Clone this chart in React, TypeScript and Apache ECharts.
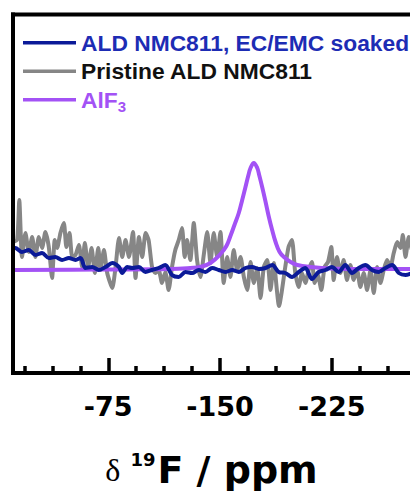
import React, { useEffect, useRef } from 'react';
import * as echarts from 'echarts';

// ---- data (chemical shift in ppm, intensity in arbitrary units) ----
const soakedName = 'ALD NMC811, EC/EMC soaked';
const pristineName = 'Pristine ALD NMC811';
const alf3Name = 'AlF3';

const soakedShift = [-10.4, -12.6, -17.1, -21.7, -26.1, -30.6, -35.1, -39.5, -44.0, -48.6, -53.0, -56.4, -59.7, -64.2, -68.7, -73.2, -77.7, -82.2, -84.4, -87.8, -91.1, -95.6, -99.9, -104.4, -108.8, -113.3, -117.8, -122.3, -126.8, -131.3, -135.7, -140.2, -144.7, -149.2, -153.7, -158.2, -162.6, -167.1, -171.6, -176.1, -180.6, -185.1, -189.4, -193.8, -198.3, -202.8, -207.3, -211.7, -216.2, -220.7, -225.1, -229.6, -234.1, -238.6, -243.1, -247.6, -252.0, -256.5, -261.0, -265.5, -270.0, -274.5, -278.9];
const soakedIntensity = [22, 22, 18, 20, 15, 17, 12, 13, 10, 12, 10, 12, 2, 3, 0, 3, 7, 3, -3, 3, 2, 3, -2, 0, 2, 5, -5, -7, -2, -3, 0, -2, 2, 0, -2, 0, -2, 2, 3, 1, 2, 5, -2, -3, -7, -2, 2, -9, -2, 0, 3, -2, 5, -3, 2, 5, 0, -2, 2, 5, -3, -5, -3];

const pristineShift = [-10.4, -13.8, -15.3, -17.1, -19.4, -21.7, -23.9, -26.1, -28.4, -30.6, -32.8, -35.1, -37.3, -39.1, -40.7, -42.9, -45.2, -46.9, -49.0, -50.8, -53.0, -55.3, -57.5, -59.3, -61.5, -63.8, -66.0, -68.3, -69.8, -72.1, -74.3, -77.7, -79.9, -82.2, -84.4, -86.6, -88.9, -91.6, -93.3, -95.6, -97.8, -100.1, -102.1, -104.4, -106.6, -108.8, -111.1, -113.3, -115.5, -117.8, -120.0, -122.3, -124.5, -126.3, -127.9, -130.1, -132.4, -134.6, -136.9, -139.1, -141.4, -143.6, -145.8, -148.1, -150.3, -152.5, -154.8, -157.0, -159.2, -161.5, -163.8, -166.0, -168.3, -170.5, -172.7, -175.0, -177.2, -179.4, -181.7, -183.9, -186.1, -189.6, -193.8, -196.0, -198.3, -200.5, -202.8, -205.0, -207.3, -209.5, -211.7, -213.5, -215.7, -218.0, -220.2, -222.5, -224.7, -226.3, -228.5, -230.8, -233.0, -235.2, -237.5, -239.7, -242.0, -244.2, -246.5, -248.7, -251.0, -253.2, -255.4, -257.7, -259.9, -262.1, -264.4, -266.6, -268.9, -271.2, -272.7, -274.5, -276.7, -278.9, -280.8];
const pristineIntensity = [28, 30, 70, 13, 37, 18, 33, 13, 33, 22, 38, 23, -8, 30, 22, 37, 47, 23, 37, 13, 15, 25, 3, 27, 3, 22, -3, 22, 0, 20, -3, -18, 3, 32, 13, 30, 13, 38, -8, 33, 13, 37, 30, 3, -3, 0, -13, -2, -20, 3, 20, 30, 42, 13, 30, 10, 47, 10, -7, 15, 38, 7, 37, 13, 38, -13, 13, -7, 20, 0, 13, -7, -20, 8, -13, 2, -28, 3, 10, -20, 7, -36, 3, 23, 30, -3, -17, -3, -13, 0, 8, -13, -5, -20, 3, 8, 23, -10, 13, -3, 10, -10, 5, -10, 0, -17, -3, -20, 0, -23, 3, -13, 0, 10, 3, 17, 28, 22, 35, 13, 33, 20, 30];

const alf3Shift = [-10.4, -69.6, -116.7, -130.1, -136.9, -143.6, -150.3, -154.3, -157.0, -159.7, -162.6, -164.9, -167.1, -169.1, -170.5, -172.7, -175.0, -176.3, -178.3, -180.6, -182.8, -185.0, -187.3, -190.0, -192.9, -197.4, -201.9, -210.8, -224.3, -251.2, -280.8];
const alf3Intensity = [0, 0.5, 1, 2, 3, 7, 16, 24, 34, 45, 57, 70, 83, 95, 102, 107, 102, 95, 83, 68, 53, 40, 28, 18, 13, 8, 5, 3, 1.5, 1, 1];

const majorTickLabels = [-75, -150, -225];

const BLUE_LINE = '#0b1a98';
const BLUE_TEXT = '#1d2cb4';
const GRAY = '#868686';
const PURPLE = '#a352f5';

const pair = (xs: number[], ys: number[]) => xs.map((x, i) => [x, ys[i]]);

export default function App() {
  const ref = useRef<HTMLDivElement>(null);
  useEffect(() => {
    const chart = echarts.init(ref.current!, null, { renderer: 'svg' });
    chart.setOption({
      animation: false,
      grid: {
        left: -3.5,
        right: -33.5,
        top: 14.5,
        bottom: 124,
        containLabel: false,
        outerBoundsMode: 'none',
      },
      legend: {
        orient: 'vertical',
        left: 23,
        top: 28.5,
        padding: 0,
        itemGap: 0,
        itemWidth: 53,
        itemHeight: 3.5,
        icon: 'rect',
        selectedMode: false,
        data: [
          { name: soakedName, textStyle: { color: BLUE_TEXT } },
          { name: pristineName, textStyle: { color: '#111' } },
          { name: alf3Name, textStyle: { color: PURPLE } },
        ],
        formatter: (name: string) => (name === alf3Name ? 'AlF{sub|3}' : name),
        textStyle: {
          fontFamily: 'Liberation Sans',
          fontWeight: 'bold',
          fontSize: 22.8,
          lineHeight: 28.5,
          rich: {
            sub: {
              fontFamily: 'Liberation Sans',
              fontWeight: 'bold',
              fontSize: 15,
              color: PURPLE,
              verticalAlign: 'bottom',
              lineHeight: 10,
            },
          },
        },
      },
      xAxis: {
        type: 'value',
        inverse: true,
        min: -300,
        max: 0,
        interval: 75,
        axisLine: { show: true, onZero: false, lineStyle: { color: '#000', width: 4 } },
        axisTick: { show: true, inside: true, length: 15, lineStyle: { color: '#000', width: 3.5 } },
        minorTick: { show: true, splitNumber: 4, length: 7, lineStyle: { color: '#000', width: 3.5 } },
        splitLine: { show: false },
        minorSplitLine: { show: false },
        axisLabel: {
          margin: 20,
          color: '#000',
          fontFamily: 'DejaVu Sans',
          fontWeight: 'bold',
          fontSize: 27,
          formatter: (v: number) => (majorTickLabels.includes(v) ? String(v) : ''),
        },
        name: '{d|δ}{s|19}{b|F / ppm}',
        nameLocation: 'middle',
        nameGap: 77,
        nameTextStyle: {
          padding: [0, 17, 0, 0],
          rich: {
            d: { fontFamily: 'Liberation Serif', fontSize: 32, lineHeight: 40, color: '#000', padding: [0, 10, 0, 0] },
            s: {
              fontFamily: 'DejaVu Sans',
              fontWeight: 'bold',
              fontSize: 18,
              color: '#000',
              verticalAlign: 'top',
              lineHeight: 10,
              padding: [0, 2, 0, 0],
            },
            b: { fontFamily: 'DejaVu Sans', fontWeight: 'bold', fontSize: 38, lineHeight: 40, color: '#000' },
          },
        },
      },
      yAxis: { type: 'value', min: -103, max: 255.5, show: false },
      series: [
        {
          type: 'line',
          name: pristineName,
          data: pair(pristineShift, pristineIntensity),
          symbol: 'none',
          smooth: 0.2,
          lineStyle: { color: GRAY, width: 4 },
          itemStyle: { color: GRAY },
          z: 2,
        },
        {
          type: 'line',
          name: alf3Name,
          data: pair(alf3Shift, alf3Intensity),
          symbol: 'none',
          smooth: 0.4,
          lineStyle: { color: PURPLE, width: 4 },
          itemStyle: { color: PURPLE },
          z: 3,
        },
        {
          type: 'line',
          name: soakedName,
          data: pair(soakedShift, soakedIntensity),
          symbol: 'none',
          smooth: 0.3,
          lineStyle: { color: BLUE_LINE, width: 4 },
          itemStyle: { color: BLUE_LINE },
          z: 4,
        },
      ],
      graphic: [
        { type: 'rect', z: 100, shape: { x: 0, y: 0, width: 11, height: 385 }, style: { fill: '#fff' } },
        { type: 'line', z: 101, shape: { x1: 13, y1: 12.5, x2: 13, y2: 375 }, style: { stroke: '#000', lineWidth: 4 } },
        { type: 'line', z: 101, shape: { x1: 11, y1: 14.5, x2: 420, y2: 14.5 }, style: { stroke: '#000', lineWidth: 4 } },
      ],
    });
    return () => chart.dispose();
  }, []);
  return <div ref={ref} style={{ position: 'absolute', left: 0, top: 0, width: 410, height: 497 }} />;
}
